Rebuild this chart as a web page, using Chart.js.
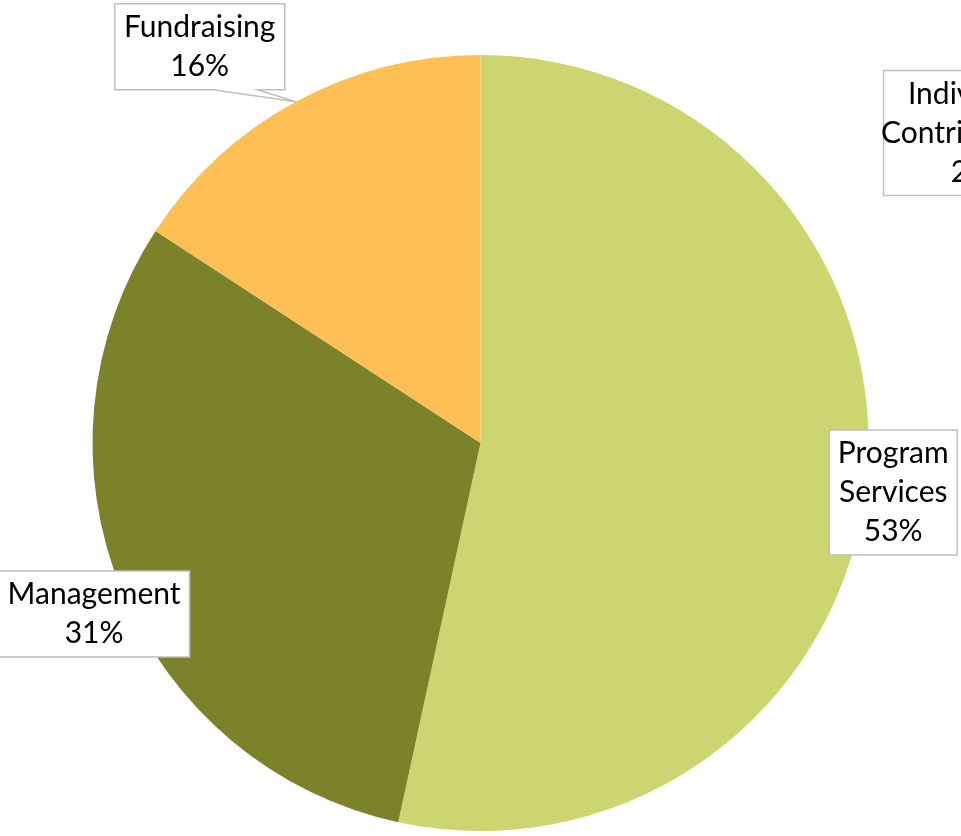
<!DOCTYPE html>
<html>
<head>
<meta charset="utf-8">
<script src="https://cdn.jsdelivr.net/npm/chart.js@4"></script>
<style>
  html, body { margin: 0; padding: 0; background: #fff; overflow: hidden; }
  #wrap { width: 961px; height: 836px; }
</style>
</head>
<body>
<div id="wrap"><canvas id="pie"></canvas></div>
<script>
const categories = ['Individual Contributions', 'Program Services', 'Management', 'Fundraising'];
const shares = [0, 53.4, 30.8, 15.8];
const shareLabels = ['2%', '53%', '31%', '16%'];
const colors = ['#CCD56F', '#CCD56F', '#7B8229', '#FEC055'];

// label box placement: radius factor from the slice mid angle, then a shift
const placing = [
    { lines: ['Individual', 'Contributions'], r: 1.0, dx: 491, dy: 78, w: 176 },
    { lines: ['Program', 'Services'], r: 1.075, dx: -2, dy: 5, w: 128 },
    { lines: ['Management'], r: 1.085, dx: 3, dy: 11, w: 191 },
    { lines: ['Fundraising'], r: 1.0, dx: -96, dy: -55, w: 170, tail: true }
];

const FONT = '30px Lato, "Open Sans", sans-serif';
const LINE = 39;

const labelBoxes = {
    id: 'labelBoxes',
    afterDatasetsDraw(chart) {
        const ctx = chart.ctx;
        const arcs = chart.getDatasetMeta(0).data;
        ctx.save();
        ctx.font = FONT;
        ctx.textAlign = 'center';
        ctx.textBaseline = 'middle';
        arcs.forEach((arc, i) => {
            const p = placing[i];
            const mid = (arc.startAngle + arc.endAngle) / 2;
            const cx = arc.x + Math.cos(mid) * arc.outerRadius * p.r + p.dx;
            const cy = arc.y + Math.sin(mid) * arc.outerRadius * p.r + p.dy;
            const lines = p.lines.concat(shareLabels[i]);
            const h = lines.length * LINE + 8;
            const x0 = cx - p.w / 2, y0 = cy - h / 2;

            ctx.beginPath();
            ctx.moveTo(x0, y0);
            ctx.lineTo(x0 + p.w, y0);
            ctx.lineTo(x0 + p.w, y0 + h);
            if (p.tail) {
                // callout pointer towards the slice edge
                const tip = {
                    x: arc.x + Math.cos(mid) * arc.outerRadius,
                    y: arc.y + Math.sin(mid) * arc.outerRadius
                };
                ctx.lineTo(x0 + p.w * 0.84, y0 + h);
                ctx.lineTo(tip.x, tip.y);
                ctx.lineTo(x0 + p.w * 0.58, y0 + h);
            }
            ctx.lineTo(x0, y0 + h);
            ctx.closePath();
            ctx.fillStyle = '#fff';
            ctx.fill();
            ctx.strokeStyle = '#BFBFBF';
            ctx.lineWidth = 1.5;
            ctx.stroke();

            ctx.fillStyle = '#000';
            lines.forEach((t, k) => {
                ctx.fillText(t, cx, y0 + 4 + LINE / 2 + k * LINE);
            });
        });
        ctx.restore();
    }
};

new Chart(document.getElementById('pie'), {
    type: 'pie',
    data: {
        labels: categories,
        datasets: [{ data: shares, backgroundColor: colors, borderWidth: 0 }]
    },
    options: {
        responsive: true,
        maintainAspectRatio: false,
        animation: false,
        layout: { padding: { top: 55, bottom: 5 } },
        plugins: { legend: { display: false }, tooltip: { enabled: false } }
    },
    plugins: [labelBoxes]
});
</script>
</body>
</html>
